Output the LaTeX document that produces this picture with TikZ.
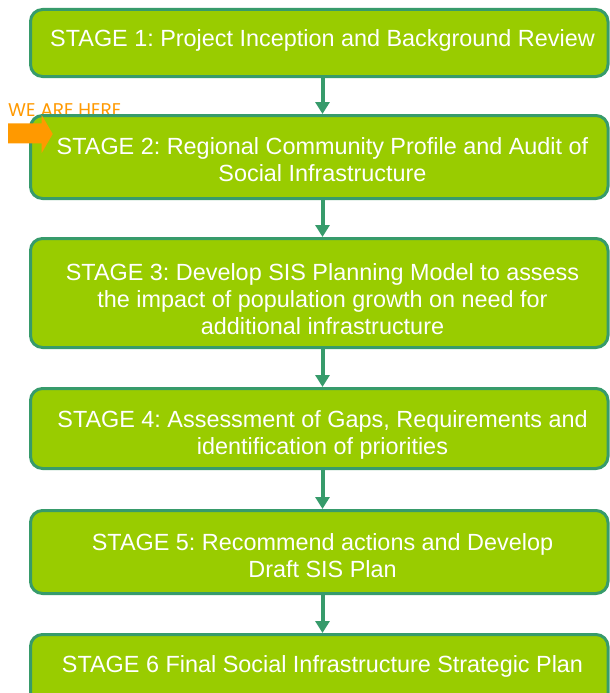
\documentclass[tikz,border=0pt]{standalone}
\usepackage{fontspec}
\setmainfont{Liberation Sans}
\newfontfamily\wfont{Poppins}
\usetikzlibrary{arrows.meta}
\definecolor{boxfill}{HTML}{99CC00}
\definecolor{boxline}{HTML}{379B6B}
\definecolor{orangeC}{HTML}{FF9900}
\frenchspacing
\newcommand{\stl}[1]{\begin{tabular}[t]{@{}c@{}}#1\end{tabular}}
\tikzset{
  stagebox/.style={draw=boxline, fill=boxfill, line width=3pt, rounded corners=12pt,
    minimum width=577.5pt, inner sep=0pt},
  stagetext/.style={text=white, inner sep=0pt, anchor=base,
    font=\frenchspacing\fontsize{23.4}{27}\selectfont},
  flow/.style={draw=boxline, line width=4pt, -{Triangle[width=14pt,length=12pt]}}
}
\begin{document}
\begin{tikzpicture}[x=1pt,y=-1pt]
\useasboundingbox (0,0) rectangle (610,693);
\clip (0,0) rectangle (610,693);
% WE ARE HERE label
\node[anchor=base west, text=orangeC, inner sep=0pt, font=\wfont\fontsize{18.4}{18.4}\selectfont] (we) at (8,116) {WE ARE HERE};
% boxes
\node[stagebox, minimum height=67pt] (b1) at (319.25,43) {};
\node[stagebox, minimum height=83pt] (b2) at (319.25,157) {};
\node[stagebox, minimum height=109pt] (b3) at (319.25,293) {};
\node[stagebox, minimum height=80pt] (b4) at (319.25,428.5) {};
\node[stagebox, minimum height=83pt] (b5) at (319.25,552) {};
\node[stagebox, minimum height=76pt] (b6) at (319.25,672.5) {};
% texts
\node[stagetext] (t1) at (322.5,47) {STAGE 1: Project Inception and Background Review};
\node[stagetext] (t2) at (322.5,154) {\stl{STAGE 2: Regional Community Profile and Audit of\\Social Infrastructure}};
\node[stagetext] (t3) at (322.5,280) {\stl{STAGE 3: Develop SIS Planning Model to assess\\the impact of population growth on need for\\additional infrastructure}};
\node[stagetext] (t4) at (322.5,427) {\stl{STAGE 4: Assessment of Gaps, Requirements and\\identification of priorities}};
\node[stagetext] (t5) at (322.5,550) {\stl{STAGE 5: Recommend actions and Develop\\Draft SIS Plan}};
\node[stagetext] (t6) at (322.5,672) {STAGE 6 Final Social Infrastructure Strategic Plan};
% connectors
\coordinate (ax) at (322.5,0);
\draw[flow] (ax |- b1.south) -- (ax |- b2.north);
\draw[flow] (ax |- b2.south) -- (ax |- b3.north);
\draw[flow] (ax |- b3.south) -- (ax |- b4.north);
\draw[flow] (ax |- b4.south) -- (ax |- b5.north);
\draw[flow] (ax |- b5.south) -- (ax |- b6.north);
% orange "we are here" arrow
\fill[orangeC] (8,123.3) -- (41.7,123.3) -- (41.7,115) -- (52.7,134) -- (41.7,153) -- (41.7,143.3) -- (8,143.3) -- cycle;
\end{tikzpicture}
\end{document}
